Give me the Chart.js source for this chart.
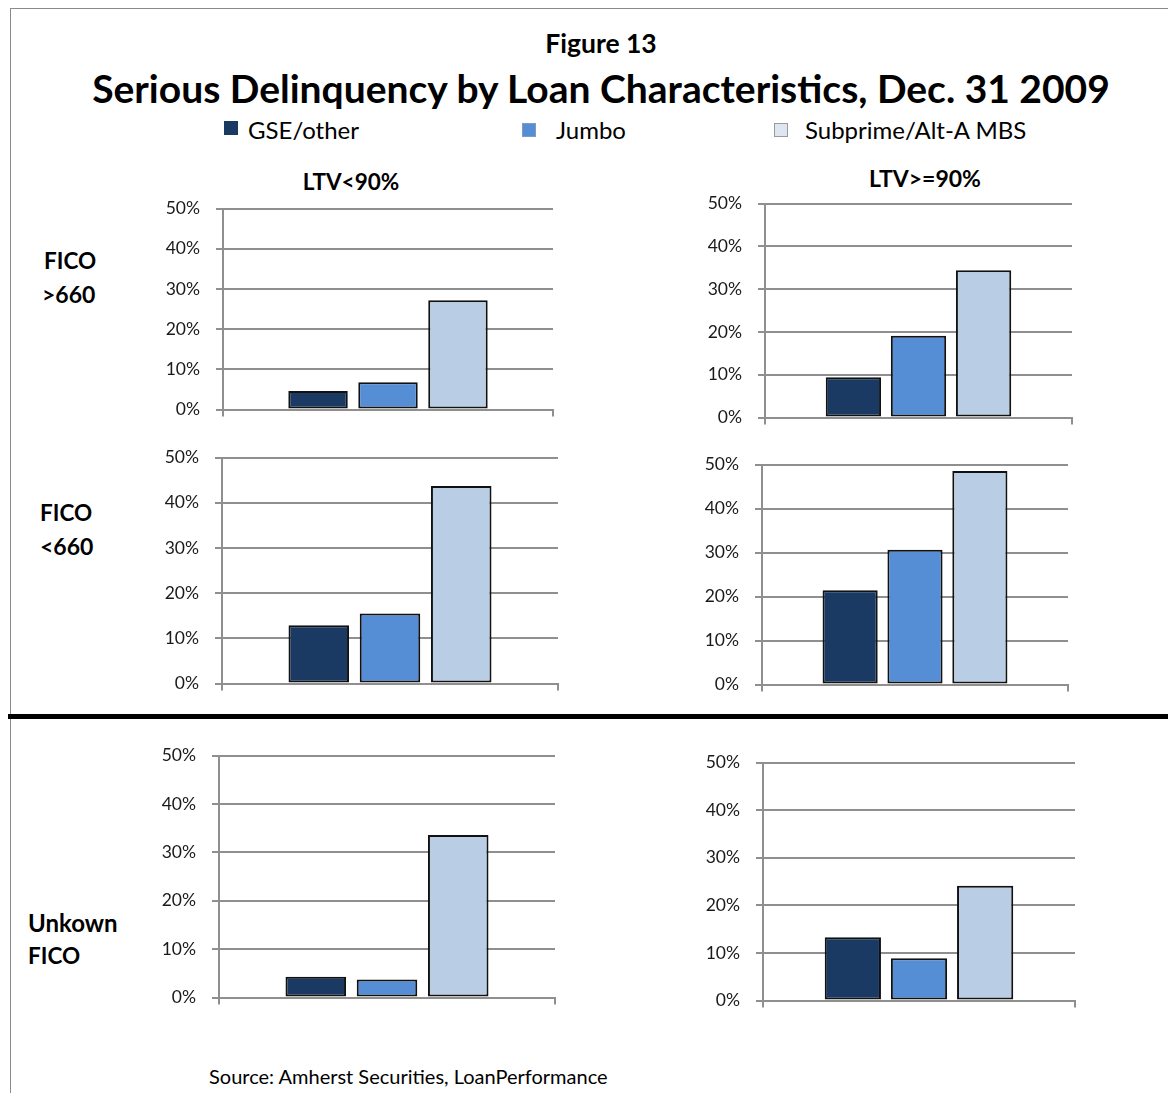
<!DOCTYPE html>
<html>
<head>
<meta charset="utf-8">
<script src="https://cdn.jsdelivr.net/npm/chart.js@4/dist/chart.umd.min.js"></script>
<style>
  html, body { margin: 0; padding: 0; background: #fff; }
  #page { position: relative; width: 1168px; height: 1093px; overflow: hidden; font-family: Lato, "Open Sans", sans-serif; color: #000; }
  .txt { position: absolute; white-space: nowrap; line-height: 1; }
  .c { transform: translate(-50%, -50%); }
  .l { transform: translateY(-50%); }
  .b { font-weight: bold; }
  .sq { position: absolute; width: 14px; height: 14px; box-sizing: border-box; }
  canvas { position: absolute; }
</style>
</head>
<body>
<div id="page">
  <div style="position:absolute;left:10px;top:8px;width:1160px;height:1px;background:#8a8a8a"></div>
  <div style="position:absolute;left:10px;top:8px;width:1px;height:1090px;background:#8a8a8a"></div>
  <div style="position:absolute;left:8px;top:714px;width:1162px;height:5px;background:#000"></div>

  <div class="txt c b" style="left:601px;top:43px;font-size:26.5px">Figure 13</div>
  <div class="txt c b" style="left:601px;top:88px;font-size:39px">Serious Delinquency by Loan Characteristics, Dec. 31 2009</div>

  <div class="sq" style="left:224px;top:121px;background:#1a3a63"></div>
  <div class="txt l" style="left:248px;top:130px;font-size:24px">GSE/other</div>
  <div class="sq" style="left:522px;top:123px;background:#558ed5;border:1px solid #7f9cc0"></div>
  <div class="txt l" style="left:556px;top:130px;font-size:24px">Jumbo</div>
  <div class="sq" style="left:774px;top:123px;background:#dde6f1;border:1px solid #9a9a9a"></div>
  <div class="txt l" style="left:805px;top:130px;font-size:24px">Subprime/Alt-A MBS</div>

  <div class="txt c b" style="left:351px;top:182px;font-size:22.5px">LTV&lt;90%</div>
  <div class="txt c b" style="left:925px;top:178px;font-size:23px">LTV&gt;=90%</div>

  <div class="txt l b" style="left:44px;top:261px;font-size:22.5px">FICO</div>
  <div class="txt l b" style="left:42px;top:294px;font-size:23px">&gt;660</div>
  <div class="txt l b" style="left:40px;top:513px;font-size:22.5px">FICO</div>
  <div class="txt l b" style="left:40px;top:546px;font-size:23px">&lt;660</div>
  <div class="txt l b" style="left:28px;top:923px;font-size:24px">Unkown</div>
  <div class="txt l b" style="left:28px;top:956px;font-size:22.5px">FICO</div>

  <div class="txt l" style="left:209px;top:1076px;font-size:20px">Source: Amherst Securities, LoanPerformance</div>
</div>
<script>
// panels: LTV<90 / LTV>=90 for FICO>660, FICO<660, unknown FICO
const seriesNames = ["GSE/other", "Jumbo", "Subprime/Alt-A MBS"];
const gseValues = [4.6, 9.4, 12.9, 21.4, 4.3, 13.3];
const jumboValues = [6.8, 19.1, 15.5, 30.6, 3.7, 8.9];
const subprimeValues = [27.2, 34.4, 43.7, 48.5, 33.6, 24.1];
const yTicks = [0, 10, 20, 30, 40, 50];

const colors = ["#1a3a63", "#558ed5", "#b9cde5"];
const gridColor = "#8f8f8f";

// plot area of each panel: left, top, width, height
const boxes = [
  [223, 208, 330, 201],
  [765, 203, 307, 214],
  [222, 457, 336, 226],
  [762, 464, 306, 220],
  [219, 755, 336, 242],
  [763, 762, 312, 238],
];

const Y_W = 80, X_H = 12, PAD_T = 12, PAD_R = 4;
const page = document.getElementById("page");

function makeChart(cv, vals) {
  return new Chart(cv.getContext("2d"), {
    type: "bar",
    data: {
      labels: [""],
      datasets: seriesNames.map((name, k) => ({
        label: name,
        data: [vals[k]],
        backgroundColor: colors[k],
        borderColor: "#111",
        borderWidth: 2,
        borderSkipped: false,
        categoryPercentage: 0.636,
        barPercentage: 0.85,
      })),
    },
    options: {
      responsive: false,
      animation: false,
      layout: { padding: { top: PAD_T, right: PAD_R, bottom: 0, left: 0 } },
      plugins: { legend: { display: false }, tooltip: { enabled: false } },
      scales: {
        x: {
          afterFit: (s) => { s.height = X_H; },
          ticks: { display: false },
          grid: { drawOnChartArea: false, tickLength: 7, color: gridColor, lineWidth: 2 },
          border: { color: gridColor, width: 2 },
        },
        y: {
          min: yTicks[0],
          max: yTicks[yTicks.length - 1],
          afterFit: (s) => { s.width = Y_W; },
          afterBuildTicks: (s) => { s.ticks = yTicks.map((v) => ({ value: v })); },
          ticks: {
            callback: (v) => v + "%",
            color: "#1a1a1a",
            padding: 16,
            font: { family: "Lato", size: 17.5 },
          },
          grid: { color: gridColor, lineWidth: 2, tickLength: 7 },
          border: { color: gridColor, width: 2 },
        },
      },
    },
  });
}

boxes.forEach(([L, T, W, H], i) => {
  const vals = [gseValues[i], jumboValues[i], subprimeValues[i]];
  let cv = document.createElement("canvas");
  cv.width = W + Y_W + PAD_R;
  cv.height = H + PAD_T + X_H;
  page.appendChild(cv);
  let chart = makeChart(cv, vals);

  // measure how much room the axes took, then size the canvas so the plot area lands on the box
  const a = chart.chartArea;
  const gapL = a.left, gapT = a.top;
  const gapR = cv.width - a.right, gapB = cv.height - a.bottom;
  chart.destroy();
  cv.remove();

  cv = document.createElement("canvas");
  cv.width = W + gapL + gapR;
  cv.height = H + gapT + gapB;
  cv.style.left = (L - gapL) + "px";
  cv.style.top = (T - gapT) + "px";
  page.appendChild(cv);
  makeChart(cv, vals);
});
</script>
</body>
</html>
